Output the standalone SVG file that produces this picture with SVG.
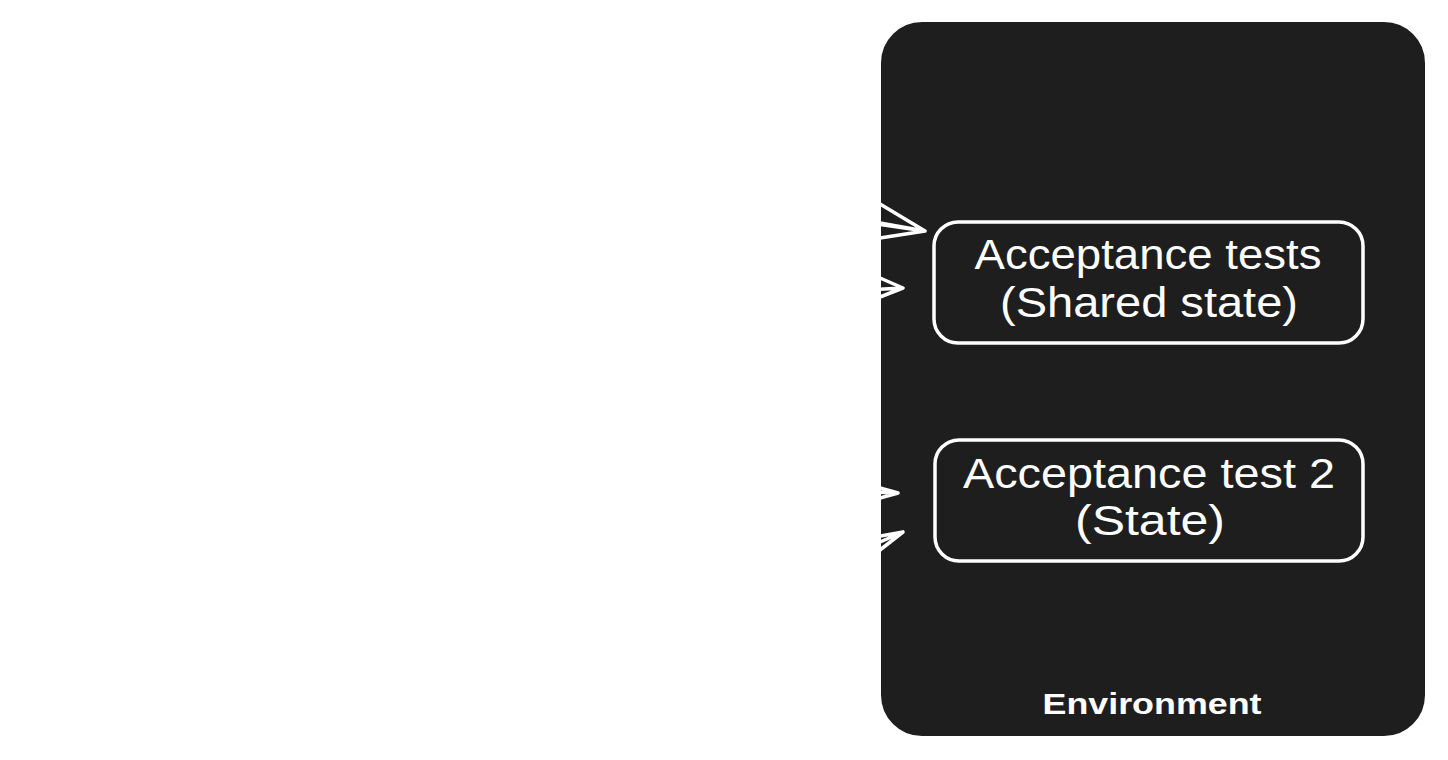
<svg xmlns="http://www.w3.org/2000/svg" width="1448" height="760" viewBox="0 0 1448 760">
<style>
.bg{fill:#ffffff}
.env{fill:#1e1e1e;stroke:#ffffff;stroke-width:2}
.box{fill:none;stroke:#ffffff;stroke-width:3.5}
.t{font-family:"Liberation Sans","DejaVu Sans",sans-serif;fill:#ffffff;text-anchor:middle}
.lbl{font-size:42px}
.envl{font-size:30px;font-weight:bold}
.con{fill:none;stroke:#ffffff;stroke-width:3.5;stroke-linecap:round;stroke-linejoin:round}
</style>
<rect class="bg" x="0" y="0" width="1448" height="760"/>
<g id="environment">
<rect class="env" x="880" y="21" width="546" height="716" rx="42" ry="42"/>
<text class="t envl" x="1152" y="714" textLength="219" lengthAdjust="spacingAndGlyphs">Environment</text>
</g>
<g id="connectors">
<path class="con" d="M300 140 L925 231 M880 204 L925 231 L880 238 M880 223 L925 231"/>
<path class="con" d="M300 320 L903 288 M880 278 L903 288 L880 297"/>
<path class="con" d="M300 470 L898 493 M880 488 L898 493 L880 498"/>
<path class="con" d="M300 640 L903 532 M880 542 L903 532 L880 550"/>
</g>
<g id="acceptance-tests">
<rect class="box" x="934" y="222" width="429" height="121" rx="24" ry="24"/>
<text class="t lbl" x="1148" y="269" textLength="347" lengthAdjust="spacingAndGlyphs">Acceptance tests</text>
<text class="t lbl" x="1149" y="317" textLength="298" lengthAdjust="spacingAndGlyphs">(Shared state)</text>
</g>
<g id="acceptance-test-2">
<rect class="box" x="935" y="440" width="428" height="121" rx="24" ry="24"/>
<text class="t lbl" x="1149" y="488" textLength="372" lengthAdjust="spacingAndGlyphs">Acceptance test 2</text>
<text class="t lbl" x="1150" y="535" textLength="150" lengthAdjust="spacingAndGlyphs">(State)</text>
</g>
</svg>
